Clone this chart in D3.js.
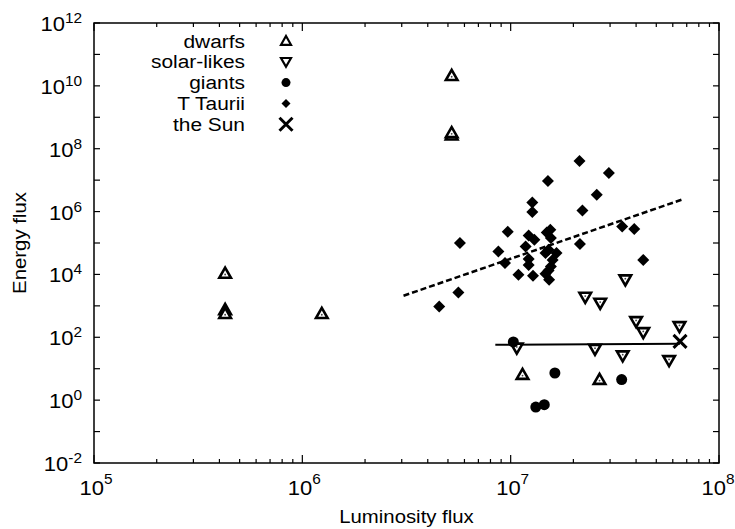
<!DOCTYPE html>
<html>
<head>
<meta charset="utf-8">
<script src="https://cdn.jsdelivr.net/npm/d3@7"></script>
<style>
  html, body { margin: 0; padding: 0; background: #fff; }
  svg { display: block; }
  text { font-family: "Liberation Sans", Arial, Helvetica, sans-serif; fill: #000; }
</style>
</head>
<body>
<svg id="chart" width="735" height="529"></svg>
<script>
// ---- data ----
const dwarfs = [[4.26e5,1.07e4],[4.26e5,750],[4.26e5,560],[1.24e6,560],[5.21e6,2.1e10],[5.21e6,2.7e8],[5.21e6,3.2e8],[1.14e7,6.5],[2.67e7,4.5]];
const solarLikes = [[2.28e7,1.9e3],[2.69e7,1.23e3],[4.0e7,320],[4.33e7,143],[6.46e7,222],[1.07e7,46],[2.54e7,42],[3.45e7,26],[5.76e7,18.4],[3.55e7,6.8e3]];
const giants = [[1.03e7,71],[1.63e7,7.3],[3.41e7,4.5],[1.32e7,0.6],[1.45e7,0.72]];
const tTaurii = [[1.27e7,1.95e6],[1.27e7,9.7e5],[2.21e7,1.09e6],[5.71e6,1.0e5],[9.68e6,2.29e5],[1.22e7,1.74e5],[1.30e7,1.27e5],[1.49e7,2.17e5],[1.55e7,2.65e5],[1.56e7,1.44e5],[8.73e6,5.4e4],[1.18e7,7.8e4],[9.39e6,2.31e4],[1.22e7,3.1e4],[1.22e7,2.0e4],[1.09e7,9.8e3],[1.28e7,9.1e3],[1.47e7,4.8e4],[1.52e7,6.1e4],[1.66e7,4.8e4],[1.59e7,2.9e4],[1.56e7,1.8e4],[1.52e7,1.34e4],[1.47e7,1.05e4],[1.53e7,6.8e3],[2.15e7,9.3e4],[3.43e7,3.37e5],[3.92e7,2.79e5],[4.33e7,2.9e4],[5.61e6,2.68e3],[4.54e6,960],[2.14e7,4.06e7],[1.51e7,9.4e6],[2.96e7,1.69e7],[2.59e7,3.44e6]];
const theSun = [[6.5e7,74]];
const fitTTaurii = [[3.06e6,2.1e3],[6.62e7,2.39e6]];
const fitSolar = [[8.44e6,58],[6.5e7,62]];
const legendLabels = ["dwarfs","solar-likes","giants","T Taurii","the Sun"];
const xTickExps = [5,6,7,8];
const yTickExps = [-2,0,2,4,6,8,10,12];
const xTitle = "Luminosity flux";
const yTitle = "Energy flux";

// ---- layout ----
const svg = d3.select("#chart");
const L = 94, R = 719, T = 23, B = 463;
const x = d3.scaleLog().domain([1e5,1e8]).range([L,R]);
const y = d3.scaleLog().domain([1e-2,1e12]).range([B,T]);
const SX = 1.1;

function label(g, px, py, base, exp, anchor, size, supSize, supDy) {
  const t = g.append("text")
    .attr("transform", `translate(${px},${py}) scale(${SX},1)`)
    .attr("text-anchor", anchor)
    .style("font-size", size + "px");
  t.append("tspan").text(base);
  if (exp !== null) t.append("tspan").attr("dy", supDy).style("font-size", supSize + "px").text(exp);
  return t;
}

// frame
svg.append("rect").attr("x", L).attr("y", T).attr("width", R-L).attr("height", B-T)
  .attr("fill", "none").attr("stroke", "#000").attr("stroke-width", 1.5);

// ticks
const ticks = svg.append("g").attr("stroke", "#000").attr("stroke-width", 1.2);
for (let e = -2; e <= 12; e++) {
  const py = y(Math.pow(10, e));
  ticks.append("line").attr("x1", L).attr("x2", L+6).attr("y1", py).attr("y2", py);
  ticks.append("line").attr("x1", R).attr("x2", R-6).attr("y1", py).attr("y2", py);
}
for (let e = 5; e <= 8; e++) {
  for (let m = 1; m <= 9; m++) {
    if (e === 8 && m > 1) break;
    const px = x(m * Math.pow(10, e));
    const len = m === 1 ? 8 : 4;
    ticks.append("line").attr("x1", px).attr("x2", px).attr("y1", B).attr("y2", B-len);
    ticks.append("line").attr("x1", px).attr("x2", px).attr("y1", T).attr("y2", T+len);
  }
}

// tick labels
const lab = svg.append("g");
yTickExps.forEach(e => {
  label(lab, 82, y(Math.pow(10,e)) + 8, "10", String(e), "end", 20, 14, -8);
});
xTickExps.forEach(e => {
  const px = Math.min(x(Math.pow(10,e)) + 2, 718);
  label(lab, px, B + 32, "10", String(e), "middle", 20, 14, -11);
});

// axis titles
svg.append("text")
  .attr("transform", `translate(${(L+R)/2},${523}) scale(${SX},1)`)
  .attr("text-anchor", "middle").style("font-size", "18.5px").text(xTitle);
svg.append("text")
  .attr("transform", `translate(${26},${(T+B)/2}) rotate(-90) scale(${SX},1)`)
  .attr("text-anchor", "middle").style("font-size", "18.5px").text(yTitle);

// marker shapes
function triUp(g, cx, cy) {
  g.append("path").attr("d", `M${cx},${cy-5.8} L${cx+5.8},${cy+4.3} L${cx-5.8},${cy+4.3} Z`)
    .attr("fill", "#fff").attr("stroke", "#000").attr("stroke-width", 2.6);
  g.append("circle").attr("cx", cx).attr("cy", cy+1).attr("r", 0.9).attr("fill", "#444");
}
function triDown(g, cx, cy) {
  g.append("path").attr("d", `M${cx},${cy+5.8} L${cx+5.8},${cy-4.3} L${cx-5.8},${cy-4.3} Z`)
    .attr("fill", "#fff").attr("stroke", "#000").attr("stroke-width", 2.6);
  g.append("circle").attr("cx", cx).attr("cy", cy-1).attr("r", 0.9).attr("fill", "#444");
}
function dot(g, cx, cy) {
  g.append("circle").attr("cx", cx).attr("cy", cy).attr("r", 5.5).attr("fill", "#000");
}
function diamond(g, cx, cy) {
  const s = 6;
  g.append("path").attr("d", `M${cx},${cy-s} L${cx+s},${cy} L${cx},${cy+s} L${cx-s},${cy} Z`).attr("fill", "#000");
}
function cross(g, cx, cy) {
  const s = 6.5;
  g.append("path").attr("d", `M${cx-s},${cy-s} L${cx+s},${cy+s} M${cx-s},${cy+s} L${cx+s},${cy-s}`)
    .attr("stroke", "#000").attr("stroke-width", 3).attr("fill", "none");
}

const plot = svg.append("g");
const line = d3.line().x(d => x(d[0])).y(d => y(d[1]));

plot.append("path").datum(fitTTaurii).attr("d", line).attr("fill", "none")
  .attr("stroke", "#000").attr("stroke-width", 2.5).attr("stroke-dasharray", "6,3");
plot.append("path").datum(fitSolar).attr("d", line).attr("fill", "none")
  .attr("stroke", "#000").attr("stroke-width", 2);

dwarfs.forEach(d => triUp(plot, x(d[0]), y(d[1])));
solarLikes.forEach(d => triDown(plot, x(d[0]), y(d[1])));
giants.forEach(d => dot(plot, x(d[0]), y(d[1])));
tTaurii.forEach(d => diamond(plot, x(d[0]), y(d[1])));
theSun.forEach(d => cross(plot, x(d[0]), y(d[1])));

// legend
const leg = svg.append("g");
const markers = [
  (g,cx,cy)=>{g.append("path").attr("d",`M${cx},${cy-5} L${cx+5},${cy+3.8} L${cx-5},${cy+3.8} Z`).attr("fill","#fff").attr("stroke","#000").attr("stroke-width",2.2);},
  (g,cx,cy)=>{g.append("path").attr("d",`M${cx},${cy+5} L${cx+5},${cy-3.8} L${cx-5},${cy-3.8} Z`).attr("fill","#fff").attr("stroke","#000").attr("stroke-width",2.2);},
  (g,cx,cy)=>{g.append("circle").attr("cx",cx).attr("cy",cy).attr("r",4.5).attr("fill","#000");},
  (g,cx,cy)=>{const s=4.5; g.append("path").attr("d",`M${cx},${cy-s} L${cx+s},${cy} L${cx},${cy+s} L${cx-s},${cy} Z`).attr("fill","#000");},
  cross];
legendLabels.forEach((name, i) => {
  const cy = 41 + i * 20.8;
  leg.append("text").attr("transform", `translate(245,${cy+6.5}) scale(${SX},1)`)
    .attr("text-anchor", "end").style("font-size", "19px").text(name);
  markers[i](leg, 286, cy);
});
</script>
</body>
</html>
